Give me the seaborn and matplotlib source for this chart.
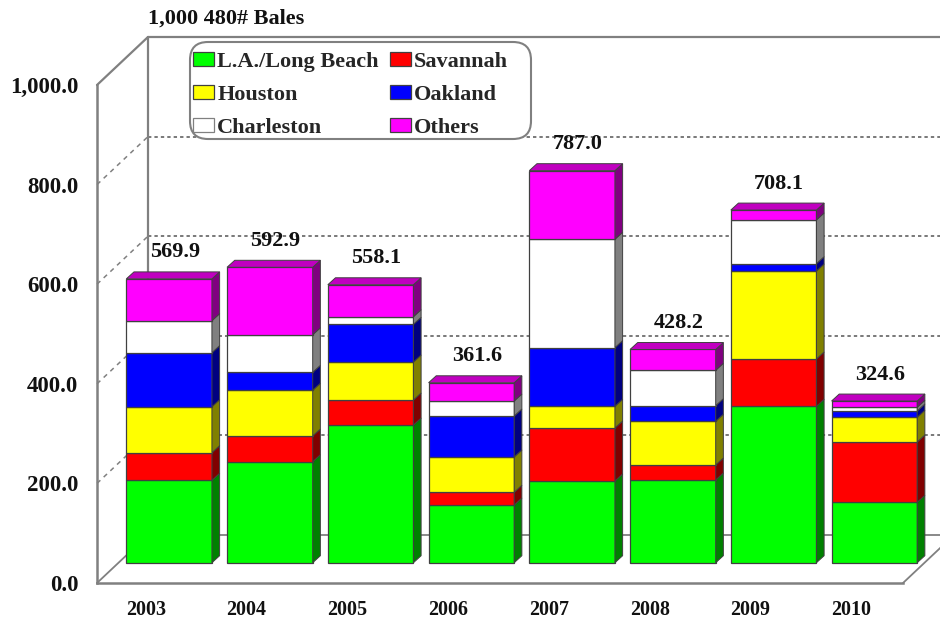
import numpy as np
import matplotlib
matplotlib.use('Agg')
import matplotlib.pyplot as plt
from matplotlib.patches import Patch, Polygon, FancyBboxPatch
import seaborn as sns

years = ['2003', '2004', '2005', '2006', '2007', '2008', '2009', '2010']
totals = ['569.9', '592.9', '558.1', '361.6', '787.0', '428.2', '708.1', '324.6']

la_long_beach = [165.5, 202.8, 276.5, 115.9, 164.1, 166.1, 314.1, 121.3]
savannah = [55.4, 51.6, 50.2, 25.5, 106.4, 30.1, 95.0, 121.1]
houston = [92.4, 91.8, 76.3, 70.9, 43.6, 87.8, 176.7, 49.6]
oakland = [108.4, 36.1, 75.7, 82.3, 117.7, 31.3, 14.7, 12.7]
charleston = [64.3, 75.5, 15.3, 30.1, 217.7, 71.1, 87.8, 7.4]
others = [83.9, 135.4, 64.1, 36.6, 137.7, 41.7, 19.8, 12.5]

y_ticks = [0, 200, 400, 600, 800, 1000]

# stack order bottom to top: name, values, front colour, side colour
stack = [
    ('L.A./Long Beach', la_long_beach, '#00ff00', '#008000'),
    ('Savannah', savannah, '#ff0000', '#800000'),
    ('Houston', houston, '#ffff00', '#808000'),
    ('Oakland', oakland, '#0000ff', '#000080'),
    ('Charleston', charleston, '#ffffff', '#808080'),
    ('Others', others, '#ff00ff', '#800080'),
]

SERIF = 'Liberation Serif'
GREY = '#808080'
EDGE = '#404040'

# fake 3d offsets, x in category widths and y in value units
WALL_DX, WALL_DY = 0.506, 96.4
BAR_SHIFT_X, BAR_SHIFT_Y = 0.216, 40.8
BAR_DX, BAR_DY = 0.076, 14.0
BAR_W = 0.85

sns.set_style('white')
plt.rcParams['font.family'] = [SERIF, 'DejaVu Serif']
plt.rcParams['font.weight'] = 'bold'

fig = plt.figure(figsize=(9.4, 6.2), dpi=100)
ax = fig.add_axes([97 / 940, 1 - 583 / 620, 806 / 940, 498 / 620])

# walls and gridlines
x0, x1 = -0.5, 7.5
for v in y_ticks[1:-1]:
    ax.plot([x0, x0 + WALL_DX], [v, v + WALL_DY], color=GREY, lw=1.1, ls=(0, (3, 3)), clip_on=False, zorder=1)
    ax.plot([x0 + WALL_DX, x1 + 1], [v + WALL_DY] * 2, color='#555555', lw=1.1, ls=(0, (2.2, 2)), clip_on=False, zorder=1)
ax.plot([x0, x0 + WALL_DX], [0, WALL_DY], color=GREY, lw=1.3, clip_on=False, zorder=1)
ax.plot([x0, x0 + WALL_DX], [1000, 1000 + WALL_DY], color=GREY, lw=1.6, clip_on=False, zorder=1)
ax.plot([x0 + WALL_DX] * 2, [WALL_DY, 1000 + WALL_DY], color=GREY, lw=1.6, clip_on=False, zorder=1)
ax.plot([x0 + WALL_DX, x1 + 1], [1000 + WALL_DY] * 2, color=GREY, lw=1.6, clip_on=False, zorder=1)
ax.plot([x0 + WALL_DX, x1 + 1], [WALL_DY, WALL_DY], color=GREY, lw=1.3, clip_on=False, zorder=1)
ax.plot([x1, x1 + WALL_DX], [0, WALL_DY], color=GREY, lw=1.3, clip_on=False, zorder=1)

# bars, front faces through seaborn, depth faces from the same values
xpos = np.arange(len(years)) + BAR_SHIFT_X
bottom = np.full(len(years), BAR_SHIFT_Y)
for name, vals, col, side in stack:
    vals = np.array(vals)
    sns.barplot(x=xpos, y=vals, bottom=bottom, native_scale=True, width=BAR_W, color=col, saturation=1,
                edgecolor=EDGE, linewidth=0.9, errorbar=None, ax=ax, zorder=3)
    for x, b, h in zip(xpos, bottom, vals):
        r = x + BAR_W / 2
        ax.add_patch(Polygon([[r, b], [r + BAR_DX, b + BAR_DY], [r + BAR_DX, b + h + BAR_DY], [r, b + h]],
                             facecolor=side, edgecolor=EDGE, lw=0.7, clip_on=False, zorder=3))
    bottom = bottom + vals

# lid on top of the stack
for x, t in zip(xpos, bottom):
    l, r = x - BAR_W / 2, x + BAR_W / 2
    ax.add_patch(Polygon([[l, t], [r, t], [r + BAR_DX, t + BAR_DY], [l + BAR_DX, t + BAR_DY]],
                         facecolor='#c000c0', edgecolor=EDGE, lw=0.7, clip_on=False, zorder=3))

for p in ax.patches:
    p.set_clip_on(False)

# total labels sit a fixed distance above the stack
for x, t, label in zip(xpos, bottom, totals):
    ax.text(x + 0.055, t + 53, label, ha='center', va='center', fontsize=16, fontweight='bold', color='#111111', zorder=5)

ax.set_xlim(x0, x1)
ax.set_ylim(0, 1000)
ax.set_xticks(np.arange(len(years)) - 0.015)
ax.set_xticklabels(years, fontsize=14.4, fontweight='bold', color='#111111')
ax.set_yticks(y_ticks)
ax.set_yticklabels([f'{v:,.1f}' for v in y_ticks], fontsize=16.5, fontweight='bold', color='#111111')
ax.tick_params(axis='x', length=0, pad=12.5)
ax.tick_params(axis='y', length=2, width=1, color=GREY, pad=11.5)
ax.set_xlabel('')
ax.set_ylabel('')
ax.patch.set_alpha(0)
sns.despine(ax=ax, top=True, right=True)
for s in ['left', 'bottom']:
    ax.spines[s].set_color(GREY)
    ax.spines[s].set_linewidth(1.8)
    ax.spines[s].set_zorder(2)

ax.text(x0 + WALL_DX, 1134, '1,000 480# Bales', ha='left', va='center', fontsize=16, fontweight='bold', color='#111111')

# rounded legend box is its own patch because the frame has more room on the right
box = FancyBboxPatch((190 + 18, 620 - 139 + 18), 341 - 36, 97 - 36, boxstyle='round,pad=18,rounding_size=18',
                     facecolor='white', edgecolor=GREY, lw=1.5, transform=None, zorder=3)
fig.add_artist(box)

order = [0, 2, 4, 1, 3, 5]
handles = [Patch(facecolor=stack[i][2], edgecolor=EDGE if stack[i][2] != '#ffffff' else GREY, lw=0.9, label=stack[i][0]) for i in order]
leg = fig.legend(handles=handles, ncol=2, loc='upper left', bbox_to_anchor=(193 / 940, 1 - 52 / 620),
                 fontsize=16, frameon=False,
                 handlelength=0.95, handleheight=0.55, handletextpad=0.14, labelspacing=0.585,
                 columnspacing=0.5, borderpad=0, borderaxespad=0)
leg.set_zorder(4)

fig.savefig('out.png', dpi=100)
